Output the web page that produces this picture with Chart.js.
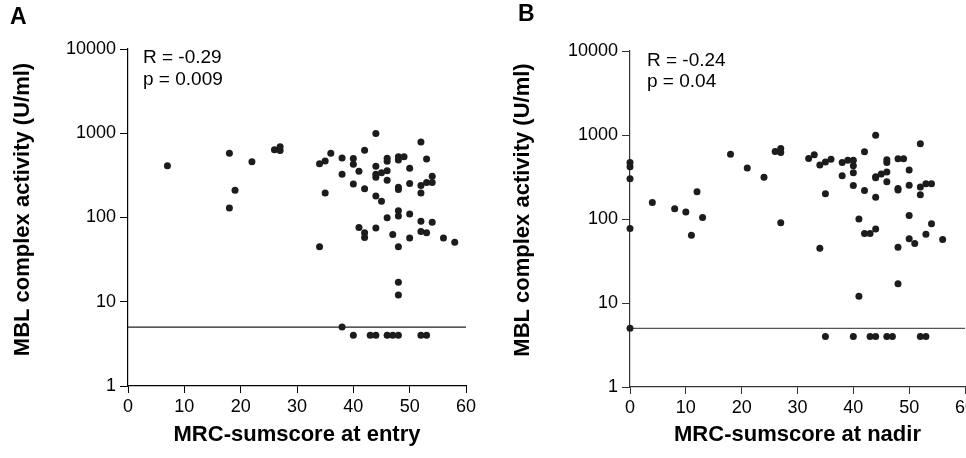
<!DOCTYPE html>
<html>
<head>
<meta charset="utf-8">
<title>MBL complex activity vs MRC-sumscore</title>
<script src="https://cdn.jsdelivr.net/npm/chart.js@4.4.1/dist/chart.umd.min.js"></script>
<style>
  html, body { margin: 0; padding: 0; background: #fff; overflow: hidden; }
  body { width: 966px; height: 458px; position: relative; }
  canvas { position: absolute; top: 0; }
  #chartA { left: 0; }
  #chartB { left: 490px; }
</style>
</head>
<body>
<canvas id="chartA" width="480" height="458"></canvas>
<canvas id="chartB" width="500" height="458"></canvas>
<script>
// axis ticks
const xTicks = [0, 10, 20, 30, 40, 50, 60];
const yTicks = [1, 10, 100, 1000, 10000];
const detectionLimit = 5;

// panel A: MRC-sumscore at entry
const entryScore = [7, 18, 18, 19, 22, 26, 27, 27, 34, 34, 35, 35, 36, 38, 38, 38,
  40, 40, 40, 40, 41, 41, 42, 42, 42, 42, 43, 44, 44, 44, 44, 44, 44, 44,
  45, 45, 46, 46, 46, 46, 46, 46, 47, 47, 48, 48, 48, 48, 48, 48, 48, 48, 48, 48,
  49, 50, 50, 50, 50, 52, 52, 52, 52, 52, 52, 53, 53, 53, 53, 54, 54, 54, 56, 58];
const entryActivity = [410, 580, 130, 210, 460, 635, 690, 625, 435, 45, 470, 195, 580, 510, 325, 5,
  500, 430, 250, 4, 355, 76, 630, 220, 66, 58, 4, 990, 405, 325, 300, 180, 75, 4,
  340, 156, 505, 466, 358, 277, 99, 4, 63, 4, 525, 480, 228, 215, 120, 104, 45, 17, 12, 4,
  525, 383, 253, 110, 57, 789, 240, 195, 90, 68, 4, 495, 261, 66, 4, 309, 260, 88, 57, 51];

// panel B: MRC-sumscore at nadir
const nadirScore = [0, 0, 0, 0, 0, 4, 8, 10, 11, 12, 13, 18, 21, 24, 26, 27, 27, 27,
  32, 33, 34, 34, 35, 35, 35, 36, 38, 38, 39, 40, 40, 40, 40, 40, 41, 41,
  42, 42, 42, 43, 43, 44, 44, 44, 44, 44, 44, 45, 46, 46, 46, 46, 46, 47,
  48, 48, 48, 48, 48, 49, 50, 50, 50, 50, 51, 52, 52, 52, 52, 53, 53, 53, 54, 54, 56];
const nadirActivity = [472, 419, 301, 77, 5, 157, 132, 121, 64, 211, 104, 588, 404, 313, 638, 693, 621, 90,
  526, 582, 439, 45, 476, 200, 4, 513, 472, 327, 499, 499, 431, 356, 251, 4, 100, 12,
  632, 219, 67, 67, 4, 990, 318, 310, 182, 76, 4, 343, 508, 472, 362, 277, 4, 4,
  522, 231, 221, 46, 17, 522, 382, 253, 110, 58, 51, 788, 240, 194, 4, 263, 66, 4, 263, 88, 57];

const FONT = "'Liberation Sans', Arial, Helvetica, sans-serif";
const Y_TITLE = 'MBL complex activity (U/ml)';

// panel letter, R/p values and the rotated y title
const panelText = {
  id: 'panelText',
  afterDraw(chart, args, o) {
    const ctx = chart.ctx;
    ctx.save();
    ctx.fillStyle = '#000';
    ctx.textBaseline = 'middle';
    ctx.textAlign = 'left';
    ctx.font = 'bold 23px ' + FONT;
    ctx.fillText(o.letter, o.letterX, o.letterY);
    ctx.font = '19px ' + FONT;
    o.stats.forEach((s, i) => ctx.fillText(s, o.statX, o.statY[i]));
    ctx.translate(o.yTitleX, o.yTitleY);
    ctx.rotate(-Math.PI / 2);
    ctx.textAlign = 'center';
    ctx.font = 'bold 22px ' + FONT;
    ctx.fillText(Y_TITLE, 0, 0);
    ctx.restore();
  }
};

function makePanel(id, cfg) {
  const points = cfg.xs.map((x, i) => ({ x: x, y: cfg.ys[i] }));
  return new Chart(document.getElementById(id), {
    type: 'scatter',
    data: {
      datasets: [
        {
          data: points,
          pointRadius: 3.5,
          pointBackgroundColor: '#1c1c1c',
          pointBorderWidth: 0,
          clip: false
        },
        {
          type: 'line',
          data: [{ x: xTicks[0], y: detectionLimit }, { x: xTicks[xTicks.length - 1], y: detectionLimit }],
          borderColor: cfg.lineColor,
          borderWidth: 1.2,
          pointRadius: 0,
          fill: false
        }
      ]
    },
    options: {
      responsive: false,
      animation: false,
      events: [],
      layout: { padding: cfg.padding },
      plugins: {
        legend: { display: false },
        tooltip: { enabled: false },
        panelText: cfg.text
      },
      scales: {
        x: {
          type: 'linear',
          min: 0,
          max: 60,
          afterBuildTicks: s => { s.ticks = xTicks.map(v => ({ value: v })); },
          afterFit: s => { s.height = cfg.xHeight; },
          ticks: { color: '#000', font: { family: FONT, size: 18 }, padding: 3, maxRotation: 0 },
          grid: { drawOnChartArea: false, tickLength: 7, color: cfg.axisColor },
          border: { color: cfg.axisColor, width: 1.2 },
          title: {
            display: true,
            text: cfg.xTitle,
            color: '#000',
            font: { family: FONT, size: 22, weight: 'bold' },
            padding: { top: 0, bottom: 10 }
          }
        },
        y: {
          type: 'logarithmic',
          min: 1,
          max: 10000,
          afterBuildTicks: s => { s.ticks = yTicks.map(v => ({ value: v })); },
          afterFit: s => { s.width = cfg.yWidth; },
          ticks: { color: '#000', font: { family: FONT, size: 18 }, padding: 4, callback: v => String(v) },
          grid: { drawOnChartArea: false, tickLength: 8, color: cfg.axisColor },
          border: { color: cfg.axisColor, width: 1.2 },
          title: { display: false }
        }
      }
    },
    plugins: [panelText]
  });
}

makePanel('chartA', {
  xs: entryScore,
  ys: entryActivity,
  xTitle: 'MRC-sumscore at entry',
  padding: { left: 0, right: 14, top: 49, bottom: 0 },
  yWidth: 128,
  xHeight: 72,
  axisColor: '#000',
  lineColor: '#222',
  text: { letter: 'A', letterX: 10, letterY: 18, stats: ['R = -0.29', 'p = 0.009'], statX: 143, statY: [58, 80],
    yTitleX: 22.5, yTitleY: 209.5 }
});

makePanel('chartB', {
  xs: nadirScore,
  ys: nadirActivity,
  xTitle: 'MRC-sumscore at nadir',
  padding: { left: 0, right: 25, top: 51, bottom: 0 },
  yWidth: 140,
  xHeight: 71,
  axisColor: '#333',
  lineColor: '#555',
  text: { letter: 'B', letterX: 28, letterY: 15, stats: ['R = -0.24', 'p = 0.04'], statX: 157, statY: [61, 82],
    yTitleX: 32.5, yTitleY: 210 }
});
</script>
</body>
</html>
